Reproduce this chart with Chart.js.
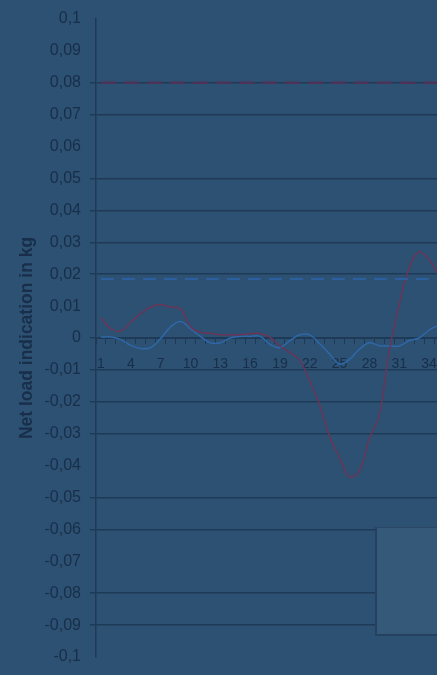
<!DOCTYPE html>
<html>
<head>
<meta charset="utf-8">
<script src="https://cdn.jsdelivr.net/npm/chart.js@4"></script>
<style>
  html, body { margin: 0; padding: 0; background: #2d5172; overflow: hidden; width: 437px; height: 675px; }
  #wrap { position: relative; width: 444px; height: 675px; }
  #legendBox { position: absolute; left: 375px; top: 527px; width: 80px; height: 106px;
    background: #355978; border-left: 2px solid #24425f; border-bottom: 2px solid #24425f; border-top: 1px solid #2a4866; }
</style>
</head>
<body>
<div id="wrap">
  <canvas id="c" width="444" height="675"></canvas>
  <div id="legendBox"></div>
</div>
<script>
const categories = ['1','2','3','4','5','6','7','8','9','10','11','12','13','14','15','16','17','18','19','20',
  '21','22','23','24','25','26','27','28','29','30','31','32','33','34','35'];
const shownLabels = ['1','4','7','10','13','16','19','22','25','28','31','34'];
const seriesRed = [0.0064, 0.0029, 0.0022, 0.005, 0.0077, 0.0097, 0.0104, 0.0097, 0.0092, 0.0035,
  0.0018, 0.0015, 0.001, 0.001, 0.001, 0.0013, 0.0014, 0.0002, -0.0025, -0.0045,
  -0.007, -0.0135, -0.021, -0.031, -0.0375, -0.0435, -0.0415, -0.0315, -0.024, -0.004,
  0.0105, 0.022, 0.027, 0.0245, 0.0195];
const seriesBlue = [0.0003, 0.0003, -0.0005, -0.0023, -0.0033, -0.003, -0.0002, 0.0035, 0.0052, 0.0029,
  0.0005, -0.0015, -0.0015, 0.0, 0.0005, 0.0005, 0.0005, -0.002, -0.003, -0.0008,
  0.001, 0.001, -0.0018, -0.005, -0.0082, -0.0067, -0.0035, -0.0015, -0.0024, -0.0025,
  -0.0025, -0.0008, 0.0, 0.0025, 0.004];
const upperLimit = 0.08;
const lowerLimit = 0.0185;
const yMin = -0.1, yMax = 0.1, yStep = 0.01;
const hiddenGridValues = [0.1, 0.09, 0.06, 0.01, -0.04, -0.07, -0.1];
const yTitle = 'Net load indication in kg';

const textColor = '#182e4a';
const gridColor = '#1f3a56';
const fontFamily = "'Liberation Sans', Arial, sans-serif";
Chart.defaults.font.family = fontFamily;
Chart.defaults.font.size = 15;
Chart.defaults.color = textColor;
const fmt = v => {
  const r = Math.round(v * 100) / 100;
  return String(r).replace('.', ',');
};
const hiddenSet = hiddenGridValues.map(v => Math.round(v * 100));

new Chart(document.getElementById('c'), {
  type: 'line',
  data: {
    labels: categories,
    datasets: [
      { label: 'Upper limit', data: categories.map(() => upperLimit), borderColor: '#4e3359', borderWidth: 2.5, borderDash: [15, 8], pointRadius: 0, tension: 0 },
      { label: 'Lower limit', data: categories.map(() => lowerLimit), borderColor: '#2b5f9f', borderWidth: 2, borderDash: [13, 8], pointRadius: 0, tension: 0 },
      { label: 'Series 1', data: seriesRed, borderColor: '#6a3558', borderWidth: 1.5, pointRadius: 0, tension: 0.4 },
      { label: 'Series 2', data: seriesBlue, borderColor: '#2f68a8', borderWidth: 1.5, pointRadius: 0, tension: 0.4 }
    ]
  },
  options: {
    responsive: false,
    animation: false,
    devicePixelRatio: 1,
    layout: { padding: { top: 19, bottom: 18, left: 0, right: 0 } },
    plugins: { legend: { display: false }, tooltip: { enabled: false } },
    scales: {
      x: {
        type: 'category',
        position: { y: 0 },
        offset: true,
        afterFit: s => { s.paddingLeft = 0; s.paddingRight = 0; s.paddingTop = 0; s.paddingBottom = 0; },
        grid: { display: true, drawOnChartArea: false, drawTicks: true, tickLength: 5, color: gridColor, offset: true },
        border: { display: true, color: gridColor, width: 1 },
        ticks: {
          autoSkip: false, maxRotation: 0, minRotation: 0, padding: 13,
          color: textColor, font: { family: fontFamily, size: 14 },
          callback: function (v, i) { const l = categories[i]; return shownLabels.includes(l) ? l : ''; }
        }
      },
      y: {
        min: yMin, max: yMax,
        afterFit: s => { s.width = 96; s.paddingTop = 0; s.paddingBottom = 0; },
        grid: {
          color: ctx => hiddenSet.includes(Math.round(ctx.tick.value * 100)) ? 'rgba(0,0,0,0)' : gridColor,
          lineWidth: 1.5, tickLength: 6, drawTicks: true
        },
        border: { display: true, color: gridColor, width: 1.5 },
        ticks: {
          stepSize: yStep, padding: 9, color: textColor,
          font: { family: fontFamily, size: 16 },
          callback: v => fmt(v)
        },
        title: {
          display: true, text: yTitle, color: textColor,
          font: { family: fontFamily, size: 17.5, weight: 'bold' },
          padding: { top: 17, bottom: 0 }
        }
      }
    }
  }
});
</script>
</body>
</html>
